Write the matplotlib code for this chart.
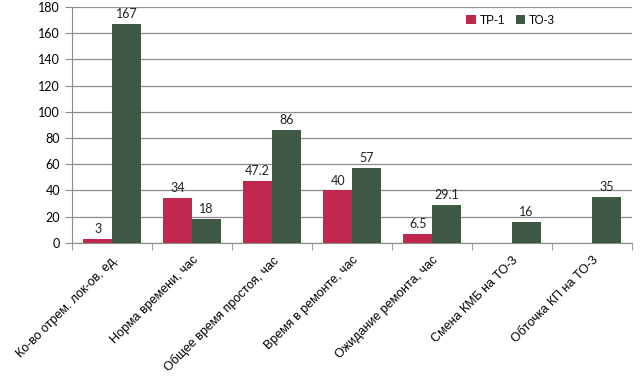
import numpy as np
import matplotlib.pyplot as plt

plt.rcParams['font.family'] = ['Lato', 'DejaVu Sans']

# ── Data ──────────────────────────────────────────────────────────────
categories = [
    "Ко-во отрем. лок-ов, ед.",
    "Норма времени, час",
    "Общее время простоя, час",
    "Время в ремонте, час",
    "Ожидание ремонта, час",
    "Смена КМБ на ТО-3",
    "Обточка КП на ТО-3",
]
tp1 = [3, 34, 47.2, 40, 6.5, np.nan, np.nan]
to3 = [167, 18, 86, 57, 29.1, 16, 35]
tp1_labels = ["3", "34", "47.2", "40", "6.5", "", ""]
to3_labels = ["167", "18", "86", "57", "29.1", "16", "35"]

c_tp = "#C0284F"
c_to = "#3F5846"

# ── Plot ──────────────────────────────────────────────────────────────
fig = plt.figure(figsize=(6.43, 3.79), dpi=100)
ax = fig.add_axes([0.112, 0.359, 0.871, 0.623])

x = np.arange(len(categories))
w = 0.36
b1 = ax.bar(x - w/2, tp1, w, color=c_tp, label="ТР-1", zorder=3)
b2 = ax.bar(x + w/2, to3, w, color=c_to, label="ТО-3", zorder=3)

for bar, lab in zip(b1, tp1_labels):
    if lab:
        ax.text(bar.get_x() + bar.get_width()/2, bar.get_height() + 3,
                lab, ha="center", va="bottom", fontsize=9, color="#222222")
for bar, lab in zip(b2, to3_labels):
    ax.text(bar.get_x() + bar.get_width()/2, bar.get_height() + 3,
            lab, ha="center", va="bottom", fontsize=9, color="#222222")

ax.set_xlim(-0.5, len(categories) - 0.5)
ax.set_ylim(0, 180)
ax.set_yticks(range(0, 181, 20))
ax.yaxis.grid(True, color="#8c8c8c", linewidth=0.9, zorder=0)

ax.set_xticks(x)
ax.set_xticklabels(categories, rotation=45, ha="right",
                   rotation_mode="anchor", fontsize=9,
                   family=["Liberation Sans", "DejaVu Sans"])
ax.set_xticks(np.arange(-0.5, len(categories)), minor=True)
ax.tick_params(axis="x", which="major", length=0, pad=8)
ax.tick_params(axis="x", which="minor", length=5, color="#8c8c8c")
ax.tick_params(axis="y", length=5, color="#8c8c8c", labelsize=9)

for s in ["top", "right"]:
    ax.spines[s].set_visible(False)
for s in ["left", "bottom"]:
    ax.spines[s].set_color("#8c8c8c")

ax.legend(loc="upper right", bbox_to_anchor=(0.87, 0.985), ncol=2,
          frameon=False, borderaxespad=0, handlelength=0.8, handleheight=0.8,
          columnspacing=0.9, handletextpad=0.3,
          prop={"family": ["Liberation Sans", "DejaVu Sans"], "size": 8.5})

plt.savefig("out.png", dpi=100)
